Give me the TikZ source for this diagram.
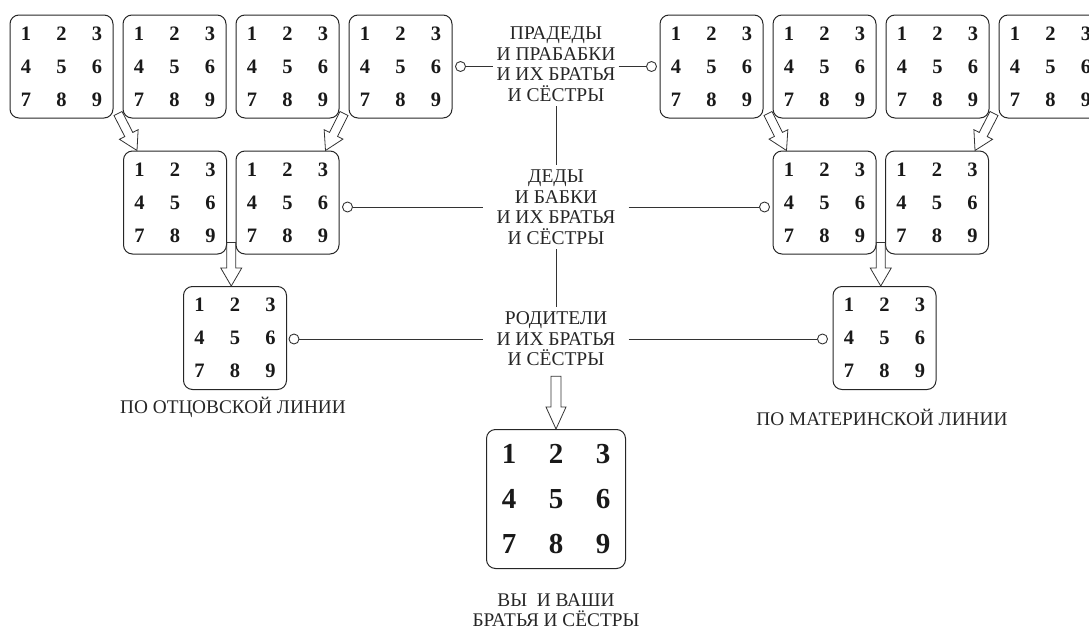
\documentclass[tikz,border=0pt]{standalone}
\usepackage{fontspec}
\setmainfont{Liberation Serif}
\usetikzlibrary{calc}

\newcommand\digitgrid[4]{%
  \node[boxframe, minimum width=#1, minimum height=#1] (-frame) {};
  \foreach \d in {1,...,9}{%
    \pgfmathtruncatemacro\dgcol{mod(\d-1,3)-1}%
    \pgfmathtruncatemacro\dgrow{div(\d-1,3)-1}%
    \node[#4] (-\d) at (\dgcol*#2, \dgrow*#3) {\d};
  }%
}

\newcommand\blockarrow[5]{% tail, tip, shaft half width, head half width, head length
  \coordinate (ba-h) at ($(#2)!#5!(#1)$);
  \draw[blockarr] ($(#1)!#3!90:(#2)$) -- ($(ba-h)!#3!-90:(#1)$) -- ($(ba-h)!#4!-90:(#1)$) -- (#2)
     -- ($(ba-h)!#4!90:(#1)$) -- ($(ba-h)!#3!90:(#1)$) -- ($(#1)!#3!-90:(#2)$) -- cycle;
}

\tikzset{
  boxframe/.style={draw=black!85, line width=1pt, rounded corners=9pt, inner sep=0pt},
  smalldigit/.style={font=\fontsize{20.5}{20.5}\selectfont\bfseries, text=black!90, inner sep=0pt},
  bigdigit/.style={font=\fontsize{29}{29}\selectfont\bfseries, text=black!90, inner sep=0pt},
  conn/.style={draw=black!80, line width=0.9pt},
  endcircle/.style={circle, draw=black!80, line width=0.9pt, minimum size=10pt, inner sep=0pt, fill=white},
  gen/.style={align=center, font=\fontsize{19.5}{20.5}\selectfont, text=black!85, inner ysep=5pt},
  caption/.style={align=center, font=\fontsize{19.3}{20}\selectfont, text=black!85, inner sep=0pt},
  blockarr/.style={draw=black!80, line width=0.8pt, line join=miter},
  smallbox/.pic={\digitgrid{103pt}{35.5}{33}{smalldigit}},
  bigbox/.pic={\digitgrid{139pt}{47}{45}{bigdigit}},
}

\begin{document}
\begin{tikzpicture}[x=1pt, y=-1pt]
\useasboundingbox (0,0) rectangle (1089,629);
\clip (0,0) rectangle (1089,629);

% great-grandparents
\pic (t1) at (61.5,66.5) {smallbox};
\pic (t2) at (174.5,66.5) {smallbox};
\pic (t3) at (287.5,66.5) {smallbox};
\pic (t4) at (400.5,66.5) {smallbox};
\pic (t5) at (711.5,66.5) {smallbox};
\pic (t6) at (824.5,66.5) {smallbox};
\pic (t7) at (937.5,66.5) {smallbox};
\pic (t8) at (1050.5,66.5) {smallbox};

% grandparents
\pic (m1) at (175,202.5) {smallbox};
\pic (m2) at (287.5,202.5) {smallbox};
\pic (m3) at (824.5,202.5) {smallbox};
\pic (m4) at (937,202.5) {smallbox};

% parents
\pic (p1) at (235,338) {smallbox};
\pic (p2) at (884.5,338) {smallbox};

% you
\pic (y) at (556,499) {bigbox};

% generation labels
\node[gen, inner xsep=3pt] (L1) at (556,64) {ПРАДЕДЫ\\И ПРАБАБКИ\\И ИХ БРАТЬЯ\\И СЁСТРЫ};
\node[gen, inner xsep=13pt] (L2) at (556,207) {ДЕДЫ\\И БАБКИ\\И ИХ БРАТЬЯ\\И СЁСТРЫ};
\node[gen, inner xsep=13pt] (L3) at (556,339) {РОДИТЕЛИ\\И ИХ БРАТЬЯ\\И СЁСТРЫ};

% end circles
\node[endcircle] (c1) at ($(t4-frame.east)+(8,0)$) {};
\node[endcircle] (c2) at ($(t5-frame.west)+(-8,0)$) {};
\node[endcircle] (c3) at ($(m2-frame.east)+(8,4.5)$) {};
\node[endcircle] (c4) at ($(m3-frame.west)+(-8,4.5)$) {};
\node[endcircle] (c5) at ($(p1-frame.east)+(7,1)$) {};
\node[endcircle] (c6) at ($(p2-frame.west)+(-10,1)$) {};

% connectors
\draw[conn] (c1) -- (c1 -| L1.west);
\draw[conn] (L1.east |- c2) -- (c2);
\draw[conn] (L1) -- (L2);
\draw[conn] (c3) -- (c3 -| L2.west);
\draw[conn] (L2.east |- c4) -- (c4);
\draw[conn] (L2) -- (L3);
\draw[conn] (c5) -- (c5 -| L3.west);
\draw[conn] (L3.east |- c6) -- (c6);

% block arrows
\coordinate (a1s) at ($(t1-frame.south east)!0.5!(t2-frame.south west)+(0,-5)$);
\coordinate (a1e) at ($(m1-frame.north west)+(14,0)$);
\coordinate (a2s) at ($(t3-frame.south east)!0.5!(t4-frame.south west)+(0,-5)$);
\coordinate (a2e) at ($(m2-frame.north east)+(-14,0)$);
\coordinate (a3s) at ($(t5-frame.south east)!0.5!(t6-frame.south west)+(0,-5)$);
\coordinate (a3e) at ($(m3-frame.north west)+(14,0)$);
\coordinate (a4s) at ($(t7-frame.south east)!0.5!(t8-frame.south west)+(0,-5)$);
\coordinate (a4e) at ($(m4-frame.north east)+(-14,0)$);
\coordinate (a5s) at ($(m1-frame.south east)!0.5!(m2-frame.south west)+(0,-12)$);
\coordinate (a5e) at (a5s |- p1-frame.north);
\coordinate (a6s) at ($(m3-frame.south east)!0.5!(m4-frame.south west)+(0,-12)$);
\coordinate (a6e) at (a6s |- p2-frame.north);
\coordinate (a7s) at ($(L3.south)+(0,5)$);
\coordinate (a7e) at (y-frame.north);

\blockarrow{a1s}{a1e}{4.5pt}{10.5pt}{18pt}
\blockarrow{a2s}{a2e}{4.5pt}{10.5pt}{18pt}
\blockarrow{a3s}{a3e}{4.5pt}{10.5pt}{18pt}
\blockarrow{a4s}{a4e}{4.5pt}{10.5pt}{18pt}
\blockarrow{a5s}{a5e}{4.5pt}{10.5pt}{18pt}
\blockarrow{a6s}{a6e}{4.5pt}{10.5pt}{18pt}
\blockarrow{a7s}{a7e}{5pt}{10pt}{22pt}

% captions
\node[caption, anchor=base] (fl) at (233,413) {ПО ОТЦОВСКОЙ ЛИНИИ};
\node[caption, anchor=base] (ml) at (882,425) {ПО МАТЕРИНСКОЙ ЛИНИИ};
\node[caption] (yl) at (556,610.5) {ВЫ\ \ И ВАШИ\\БРАТЬЯ И СЁСТРЫ};
\end{tikzpicture}
\end{document}
